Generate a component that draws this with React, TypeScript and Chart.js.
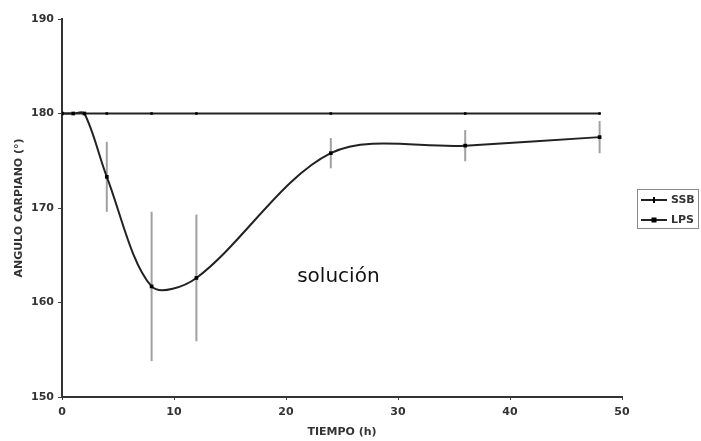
import React, { useEffect, useRef } from "react";
import { Chart, registerables } from "chart.js";

Chart.register(...registerables);

const hours = [0, 1, 2, 4, 8, 12, 24, 36, 48];
const ssbValues = [180, 180, 180, 180, 180, 180, 180, 180, 180];
const lpsValues = [180, 180, 180, 173.3, 161.7, 162.6, 175.8, 176.6, 177.5];
const lpsErrors = [0, 0, 0, 3.7, 7.9, 6.7, 1.6, 1.65, 1.7];
const seriesLabels = ["SSB", "LPS"];
const xTitle = "TIEMPO (h)";
const yTitle = "ANGULO CARPIANO (°)";
const noteText = "solución";
const notePos = { x: 21, y: 162.2 };

const FONT = "'DejaVu Sans', sans-serif";

const errorBarPlugin = {
  id: "errorBars",
  beforeDatasetsDraw(chart: any) {
    const { ctx, scales } = chart;
    const xs = scales.x;
    const ys = scales.y;
    ctx.save();
    ctx.strokeStyle = "#a0a0a0";
    ctx.lineWidth = 2;
    hours.forEach((h, i) => {
      const e = lpsErrors[i];
      if (!e) return;
      const px = xs.getPixelForValue(h);
      ctx.beginPath();
      ctx.moveTo(px, ys.getPixelForValue(lpsValues[i] + e));
      ctx.lineTo(px, ys.getPixelForValue(lpsValues[i] - e));
      ctx.stroke();
    });
    ctx.restore();
  },
};

const notePlugin = {
  id: "note",
  afterDatasetsDraw(chart: any) {
    const { ctx, scales } = chart;
    ctx.save();
    ctx.font = `20px ${FONT}`;
    ctx.fillStyle = "#111";
    ctx.textBaseline = "alphabetic";
    ctx.textAlign = "left";
    ctx.fillText(noteText, scales.x.getPixelForValue(notePos.x), scales.y.getPixelForValue(notePos.y));
    ctx.restore();
  },
};

const legendPlugin = {
  id: "boxLegend",
  afterDraw(chart: any) {
    const { ctx } = chart;
    const bx = 637;
    const by = 189;
    const bw = 61;
    const bh = 39;
    ctx.save();
    ctx.strokeStyle = "#8a8a8a";
    ctx.lineWidth = 1;
    ctx.strokeRect(bx + 0.5, by + 0.5, bw, bh);
    chart.data.datasets.forEach((ds: any, i: number) => {
      const y = by + 11 + i * 20;
      ctx.strokeStyle = "#222";
      ctx.lineWidth = 2;
      ctx.beginPath();
      ctx.moveTo(bx + 4, y);
      ctx.lineTo(bx + 30, y);
      ctx.stroke();
      ctx.fillStyle = "#000";
      if (i === 0) {
        ctx.fillRect(bx + 16, y - 3, 2, 6);
      } else {
        ctx.fillRect(bx + 14.5, y - 2.5, 5, 5);
      }
      ctx.font = `bold 11px ${FONT}`;
      ctx.fillStyle = "#333";
      ctx.textBaseline = "middle";
      ctx.textAlign = "left";
      ctx.fillText(ds.label, bx + 34, y + 0.5);
    });
    ctx.restore();
  },
};

export default function App() {
  const ref = useRef<HTMLCanvasElement | null>(null);

  useEffect(() => {
    document.body.style.margin = "0";
    const canvas = ref.current;
    if (!canvas) return;
    const chart = new Chart(canvas, {
      type: "line",
      data: {
        datasets: [
          {
            label: seriesLabels[0],
            data: hours.map((h, i) => ({ x: h, y: ssbValues[i] })),
            borderColor: "#222",
            borderWidth: 2,
            backgroundColor: "#000",
            pointStyle: "rect",
            pointRadius: 1.8,
            pointBorderWidth: 0,
            tension: 0,
          },
          {
            label: seriesLabels[1],
            data: hours.map((h, i) => ({ x: h, y: lpsValues[i] })),
            borderColor: "#222",
            borderWidth: 2,
            backgroundColor: "#000",
            pointStyle: "rect",
            pointRadius: 2.6,
            pointBorderWidth: 0,
            tension: 0.32,
          },
        ],
      },
      options: {
        animation: false,
        responsive: false,
        devicePixelRatio: 1,
        layout: { padding: { left: 0, right: 79, top: 19, bottom: 0 } },
        plugins: { legend: { display: false }, tooltip: { enabled: false } },
        scales: {
          x: {
            type: "linear",
            min: 0,
            max: 50,
            afterFit: (s: any) => {
              s.height = 44;
            },
            ticks: {
              stepSize: 10,
              font: { family: FONT, size: 11, weight: "bold" },
              color: "#333",
              padding: 6,
            },
            grid: { drawOnChartArea: false, drawTicks: true, tickLength: 3, color: "#444" },
            border: { display: true, color: "#333", width: 2 },
            title: {
              display: true,
              text: xTitle,
              font: { family: FONT, size: 11, weight: "bold" },
              color: "#333",
              padding: { top: 2, bottom: 2 },
            },
          },
          y: {
            type: "linear",
            min: 150,
            max: 190,
            afterFit: (s: any) => {
              s.width = 62;
            },
            ticks: {
              stepSize: 10,
              font: { family: FONT, size: 11, weight: "bold" },
              color: "#333",
              padding: 4,
            },
            grid: { drawOnChartArea: false, drawTicks: true, tickLength: 4, color: "#444" },
            border: { display: true, color: "#333", width: 2 },
            title: {
              display: true,
              text: yTitle,
              font: { family: FONT, size: 11, weight: "bold" },
              color: "#333",
              padding: { top: 13, bottom: 0 },
            },
          },
        },
      },
      plugins: [errorBarPlugin, notePlugin, legendPlugin],
    } as any);
    return () => chart.destroy();
  }, []);

  return (
    <div style={{ width: 701, height: 441, overflow: "hidden" }}>
      <canvas ref={ref} width={701} height={441} style={{ display: "block" }} />
    </div>
  );
}
